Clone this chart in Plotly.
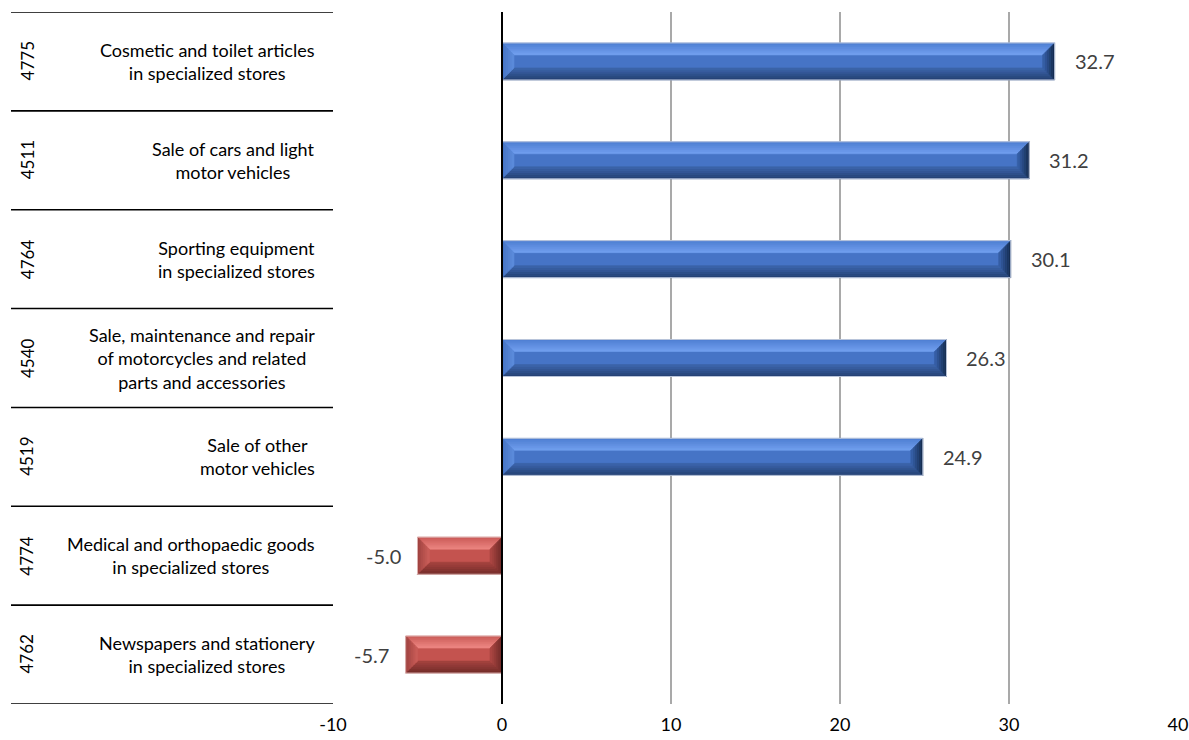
import plotly.graph_objects as go

# Activity codes, descriptions and growth values (top to bottom)
codes = ["4775", "4511", "4764", "4540", "4519", "4774", "4762"]
labels = [
    "Cosmetic and toilet articles<br>in specialized stores",
    "Sale of cars and light<br>motor vehicles",
    "Sporting equipment<br>in specialized stores",
    "Sale, maintenance and repair<br>of motorcycles and related<br>parts and accessories",
    "Sale of other<br>motor vehicles",
    "Medical and orthopaedic goods<br>in specialized stores",
    "Newspapers and stationery<br>in specialized stores",
]
values = [32.7, 31.2, 30.1, 26.3, 24.9, -5.0, -5.7]
x_ticks = [-10, 0, 10, 20, 30, 40]

W, H = 1189, 740
ML, MR, MT, MB = 333, 11, 12, 36
PW, PH = W - ML - MR, H - MT - MB
XMIN, XMAX = -10, 40
n = len(values)
pos = list(range(n))

px_x = PW / (XMAX - XMIN)          # pixels per value unit
px_y = PH / n                      # pixels per category band
BAR_W = 37 / px_y                  # bar thickness in band units
DEPTH = 12                         # bevel depth in pixels
dx, dy = DEPTH / px_x, DEPTH / px_y

def hex_rgb(h):
    h = h.lstrip("#")
    return [int(h[i:i + 2], 16) for i in (0, 2, 4)]

def mix(a, b, t):
    ca, cb = hex_rgb(a), hex_rgb(b)
    return "rgb({},{},{})".format(*[round(ca[i] + (cb[i] - ca[i]) * t) for i in range(3)])

# face colours: (outer, inner) for top, bottom, start (at zero) and end
blue = dict(center="#4674c6", top=("#4d7dd2", "#72a0ef"), bottom=("#243f70", "#3d66ad"),
            zero=("#4574c4", "#5d8cdc"), end=("#132848", "#3863ad"), edge="#b8c4da")
red = dict(center="#c4534f", top=("#c95a56", "#ee8783"), bottom=("#6f2b29", "#a6433f"),
           zero=("#6a2826", "#b04845"), end=("#9c413e", "#cc5e5a"), edge="#dcb0ae")

fig = go.Figure()
fig.add_trace(go.Bar(
    x=values, y=pos, orientation="h", width=BAR_W,
    marker=dict(color=[blue["center"] if v >= 0 else red["center"] for v in values], line=dict(width=0)),
    hoverinfo="x", showlegend=False,
))

shapes = []
STEPS = 6
for i, v in enumerate(values):
    pal = blue if v >= 0 else red
    x0, x1 = min(0, v), max(0, v)
    yt, yb = i - BAR_W / 2, i + BAR_W / 2
    # the face touching zero is the "zero" face; the outer end gets the "end" face
    left_c, right_c = (pal["zero"], pal["end"]) if v >= 0 else (pal["end"], pal["zero"])
    for k in range(STEPS):
        a, b = k / STEPS, (k + 1) / STEPS
        t = (k + 0.5) / STEPS
        faces = [
            (pal["top"], [(x0 + a * dx, yt + a * dy), (x1 - a * dx, yt + a * dy),
                          (x1 - b * dx, yt + b * dy), (x0 + b * dx, yt + b * dy)]),
            (pal["bottom"], [(x0 + a * dx, yb - a * dy), (x1 - a * dx, yb - a * dy),
                             (x1 - b * dx, yb - b * dy), (x0 + b * dx, yb - b * dy)]),
            (left_c, [(x0 + a * dx, yt + a * dy), (x0 + b * dx, yt + b * dy),
                      (x0 + b * dx, yb - b * dy), (x0 + a * dx, yb - a * dy)]),
            (right_c, [(x1 - a * dx, yt + a * dy), (x1 - b * dx, yt + b * dy),
                       (x1 - b * dx, yb - b * dy), (x1 - a * dx, yb - a * dy)]),
        ]
        for cols, pts in faces:
            path = "M " + " L ".join(f"{px},{py}" for px, py in pts) + " Z"
            c = mix(cols[0], cols[1], t)
            shapes.append(dict(type="path", path=path, xref="x", yref="y",
                               fillcolor=c, line=dict(width=0.6, color=c), layer="above"))
    shapes.append(dict(type="rect", xref="x", yref="y", x0=x0, x1=x1, y0=yt, y1=yb,
                       fillcolor="rgba(0,0,0,0)", line=dict(width=1, color=pal["edge"]), layer="above"))

# zero line on top of the bars
shapes.append(dict(type="line", xref="x", yref="paper", x0=0, x1=0, y0=0, y1=1,
                   line=dict(color="black", width=2), layer="above"))

# table rules on the left
TABLE_LEFT = (11 - ML) / PW
for b in range(n + 1):
    shapes.append(dict(type="line", xref="paper", yref="y", x0=TABLE_LEFT, x1=0,
                       y0=b - 0.5, y1=b - 0.5, line=dict(color="black", width=1.6), layer="above"))

annotations = []
CODE_X = (27 - ML) / PW
DESC_X = (317 - ML) / PW
for i in range(n):
    annotations.append(dict(x=CODE_X, y=i, xref="paper", yref="y", text=codes[i], textangle=-90,
                            xanchor="center", yanchor="middle", showarrow=False,
                            font=dict(size=17, color="black", family="Lato")))
    annotations.append(dict(x=DESC_X, y=i, xref="paper", yref="y", text=labels[i], xanchor="right",
                            align="center", showarrow=False,
                            font=dict(size=18, color="black", family="Lato")))
    v = values[i]
    annotations.append(dict(x=v, y=i, xref="x", yref="y", text=f"{v:.1f}",
                            xanchor="left" if v >= 0 else "right", xshift=18 if v >= 0 else -15,
                            showarrow=False, font=dict(size=20, color="#404040", family="Lato")))

fig.update_layout(
    width=W, height=H,
    margin=dict(l=ML, r=MR, t=MT, b=MB, autoexpand=False),
    paper_bgcolor="white", plot_bgcolor="white",
    font=dict(family="Lato", size=18, color="black"),
    xaxis=dict(range=[XMIN, XMAX], tickvals=x_ticks, ticktext=[str(t) for t in x_ticks],
               showgrid=True, gridcolor="#a9a9a9", gridwidth=1.5, zeroline=False, automargin=False,
               showline=False, ticks="", ticklabelstandoff=8,
               tickfont=dict(size=18, color="black", family="Lato")),
    yaxis=dict(range=[n - 0.5, -0.5], showticklabels=False, showgrid=False, zeroline=False,
               showline=False, ticks="", automargin=False),
    shapes=shapes, annotations=annotations,
    bargap=0,
)

fig.write_html("out.html")
